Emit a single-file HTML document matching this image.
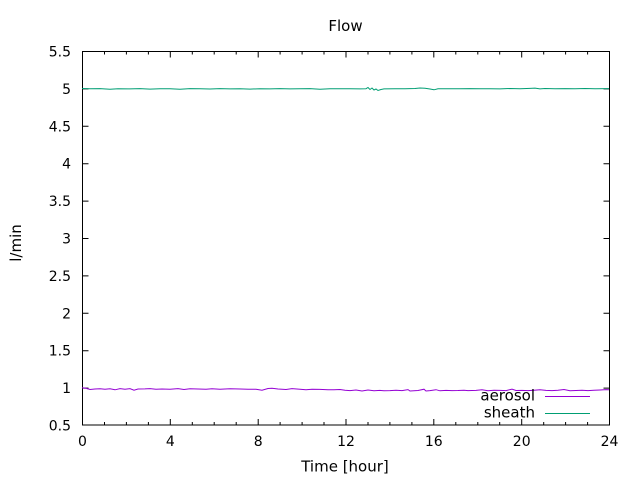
<!DOCTYPE html>
<html><head><meta charset="utf-8"><style>
html,body{margin:0;padding:0;background:#fff;}
svg{display:block;}
text{font-family:"DejaVu Sans","Liberation Sans",sans-serif;font-size:14px;fill:#000;}
.lbl{font-size:15px;}
</style></head><body>
<svg width="640" height="480" viewBox="0 0 640 480" xmlns="http://www.w3.org/2000/svg">
<rect width="640" height="480" fill="#fff"/>
<text class="lbl" x="345.5" y="31" text-anchor="middle">Flow</text>
<g stroke="#000" stroke-width="1" fill="none">
<rect x="82.5" y="51.5" width="527" height="373.5"/>
<path d="M82.5,51.5h6M609.5,51.5h-6 M82.5,88.9h6M609.5,88.9h-6 M82.5,126.3h6M609.5,126.3h-6 M82.5,163.7h6M609.5,163.7h-6 M82.5,201.1h6M609.5,201.1h-6 M82.5,238.5h6M609.5,238.5h-6 M82.5,275.9h6M609.5,275.9h-6 M82.5,313.3h6M609.5,313.3h-6 M82.5,350.7h6M609.5,350.7h-6 M82.5,388.1h6M609.5,388.1h-6"/>
<path d="M82.5,425v-6M82.5,51.5v6 M170.3,425v-6M170.3,51.5v6 M258.2,425v-6M258.2,51.5v6 M346,425v-6M346,51.5v6 M433.8,425v-6M433.8,51.5v6 M521.7,425v-6M521.7,51.5v6"/>
<path d="M104.5,425v-3M104.5,51.5v3 M126.4,425v-3M126.4,51.5v3 M148.4,425v-3M148.4,51.5v3 M192.3,425v-3M192.3,51.5v3 M214.2,425v-3M214.2,51.5v3 M236.2,425v-3M236.2,51.5v3 M280.1,425v-3M280.1,51.5v3 M302.1,425v-3M302.1,51.5v3 M324,425v-3M324,51.5v3 M368,425v-3M368,51.5v3 M389.9,425v-3M389.9,51.5v3 M411.9,425v-3M411.9,51.5v3 M455.8,425v-3M455.8,51.5v3 M477.8,425v-3M477.8,51.5v3 M499.7,425v-3M499.7,51.5v3 M543.7,425v-3M543.7,51.5v3 M565.6,425v-3M565.6,51.5v3 M587.6,425v-3M587.6,51.5v3"/>
</g>
<g text-anchor="end">
<text x="71" y="56.5">5.5</text>
<text x="71" y="93.9">5</text>
<text x="71" y="131.3">4.5</text>
<text x="71" y="168.7">4</text>
<text x="71" y="206.1">3.5</text>
<text x="71" y="243.5">3</text>
<text x="71" y="280.9">2.5</text>
<text x="71" y="318.3">2</text>
<text x="71" y="355.7">1.5</text>
<text x="71" y="393.1">1</text>
<text x="71" y="430.5">0.5</text>
</g>
<g text-anchor="middle">
<text x="82.5" y="446">0</text>
<text x="170.3" y="446">4</text>
<text x="258.2" y="446">8</text>
<text x="346" y="446">12</text>
<text x="433.8" y="446">16</text>
<text x="521.7" y="446">20</text>
<text x="609.5" y="446">24</text>
<text class="lbl" x="345" y="471.5">Time [hour]</text>
</g>
<text class="lbl" transform="translate(21,243) rotate(-90)" text-anchor="middle">l/min</text>
<polyline fill="none" stroke="#009e73" stroke-width="1" points="82,88.5 90,88.8 100,88.6 110,89.2 118,88.7 130,88.9 140,88.6 150,89.1 160,88.7 170,88.8 180,89.2 190,88.6 200,88.8 210,89 220,88.6 230,88.9 240,88.7 250,89.1 260,88.7 270,88.9 280,88.6 290,88.9 300,88.7 310,88.6 320,89.2 330,88.8 340,88.7 350,88.8 360,88.9 366,88.7 368,87.5 370,89.5 372,88 374,90 376,89 378,90.5 381,89.5 384,88.9 395,88.7 405,88.8 415,88.5 420,88 425,88.3 430,89 434,89.8 438,88.8 450,88.7 460,88.8 470,88.6 480,88.8 490,88.7 500,88.9 510,88.5 520,88.8 530,88.4 535,88.1 540,88.9 545,88.5 555,88.7 565,88.6 575,88.8 585,88.5 595,88.8 609,88.6"/>
<polyline fill="none" stroke="#9400d3" stroke-width="1" points="82,387.8 86,388.3 90,389.5 95,389 100,388.7 105,389.3 110,388.8 115,389.8 120,388.6 125,389.3 130,388.6 134,390.2 138,389 145,388.9 150,388.6 156,389.3 162,389 170,389.2 178,388.6 184,389.5 190,388.8 198,389 206,389.3 212,388.7 220,389.2 230,388.7 240,389 248,389.3 256,389.3 262,390.2 268,388.5 272,388.3 278,389 286,389.5 292,388.6 300,389.2 306,389.8 312,389.2 320,389.4 328,389.7 334,389.8 340,389.5 345,390.2 350,390.6 356,390 362,391 368,390 374,390.8 380,390.4 384,390.8 390,390.6 396,390.2 402,390.6 408,389.6 410,391 418,390.5 424,389.2 426,391 430,390.6 436,389.7 440,390.8 446,390.4 452,390.6 458,390.5 464,390.2 468,390.6 476,390.4 482,389.8 488,390.8 494,390.2 500,390.4 506,390.6 512,389.2 516,390.5 522,390.4 528,390.6 534,390.2 540,389.7 546,390.4 552,390.6 558,390.3 564,389.5 570,390.8 576,390.5 582,390.2 588,390.6 594,390.3 600,390 606,389.6 609,389.8"/>
<text class="lbl" x="535" y="400.5" text-anchor="end">aerosol</text>
<line x1="545" y1="396.5" x2="590" y2="396.5" stroke="#9400d3" stroke-width="1"/>
<text class="lbl" x="535" y="417.5" text-anchor="end">sheath</text>
<line x1="545" y1="413.5" x2="590" y2="413.5" stroke="#009e73" stroke-width="1"/>
</svg>
</body></html>
